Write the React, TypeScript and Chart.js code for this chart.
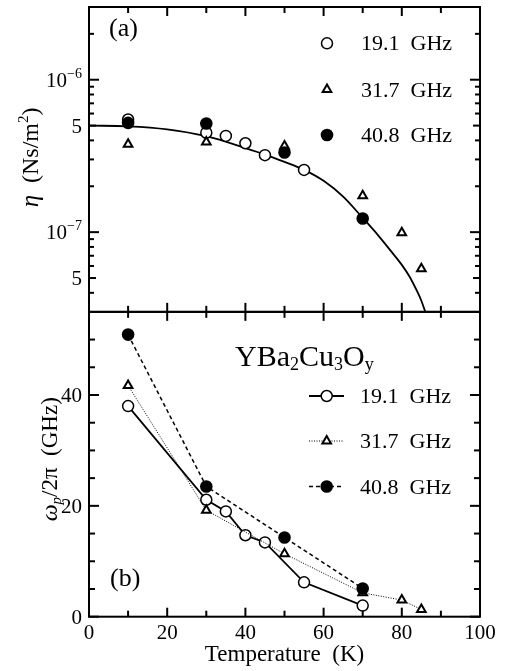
import React, { useEffect, useRef } from 'react';
import { Chart, registerables } from 'chart.js';

Chart.register(...registerables);

const FONT = '"Liberation Serif", "Times New Roman", Times, serif';

// ---------- Panel (a): viscosity eta (Ns/m^2), log scale ----------
const etaT191 = [10, 30, 35, 40, 45, 55];
const eta191 = [5.48e-7, 4.49e-7, 4.28e-7, 3.83e-7, 3.2e-7, 2.56e-7];
const etaT317 = [10, 30, 50, 70, 80, 85];
const eta317 = [3.77e-7, 3.9e-7, 3.67e-7, 1.73e-7, 9.9e-8, 5.75e-8];
const etaT408 = [10, 30, 50, 70];
const eta408 = [5.21e-7, 5.16e-7, 3.33e-7, 1.23e-7];
// fitted curve
const fitT = [0, 10, 20, 30, 40, 45, 50, 55, 60, 65, 70, 74, 78, 80, 82, 84, 85, 86];
const fitEta = [5.0e-7, 4.95e-7, 4.73e-7, 4.26e-7, 3.56e-7, 3.23e-7, 2.89e-7, 2.56e-7, 2.17e-7, 1.71e-7, 1.24e-7, 9.5e-8, 7.1e-8, 6.1e-8, 5.1e-8, 4.05e-8, 3.55e-8, 3.0e-8];

// ---------- Panel (b): omega_p / 2pi (GHz) ----------
const wT191 = [10, 30, 35, 40, 45, 55, 70];
const w191 = [38.0, 21.1, 19.0, 14.7, 13.4, 6.2, 2.0];
const wT317 = [10, 30, 50, 70, 80, 85];
const w317 = [41.7, 19.2, 11.35, 4.3, 3.0, 1.3];
const wT408 = [10, 30, 50, 70];
const w408 = [50.9, 23.5, 14.3, 5.1];

// ---------- axes ----------
const xRange = [0, 100];
const etaRange = [3e-8, 3e-6];
const wRange = [0, 55];
const xMajorTicks = [0, 20, 40, 60, 80, 100];
const xMinorTicks = [10, 30, 50, 70, 90];
const etaMajorTicks = [1e-7, 1e-6];
const etaMajorLabels = ['7', '6'];
const etaMidTicks = [5e-8, 5e-7];
const etaMidLabels = ['5', '5'];
const etaMinorTicks = [4e-8, 6e-8, 7e-8, 8e-8, 9e-8, 2e-7, 3e-7, 4e-7, 6e-7, 7e-7, 8e-7, 9e-7, 2e-6];
const wMajorTicks = [0, 20, 40];
const wMinorTicks = [5, 10, 15, 25, 30, 35, 45, 50];
const seriesLabels = ['19.1  GHz', '31.7  GHz', '40.8  GHz'];

const pts = (xs: number[], ys: number[]) => xs.map((x, i) => ({ x, y: ys[i] }));

type Run = { t: string; size: number; italic?: boolean; dy?: number };

function drawRuns(ctx: CanvasRenderingContext2D, runs: Run[], x: number, y: number, align: 'left' | 'center' | 'right') {
  const fontOf = (r: Run) => `${r.italic ? 'italic ' : ''}${r.size}px ${FONT}`;
  const widths = runs.map((r) => {
    ctx.font = fontOf(r);
    return ctx.measureText(r.t).width;
  });
  const total = widths.reduce((a, b) => a + b, 0);
  let cx = align === 'left' ? x : align === 'center' ? x - total / 2 : x - total;
  ctx.textAlign = 'left';
  ctx.textBaseline = 'alphabetic';
  runs.forEach((r, i) => {
    ctx.font = fontOf(r);
    ctx.fillText(r.t, cx, y + (r.dy || 0));
    cx += widths[i];
  });
}

function marker(ctx: CanvasRenderingContext2D, kind: string, x: number, y: number) {
  ctx.save();
  ctx.setLineDash([]);
  ctx.strokeStyle = '#000';
  ctx.beginPath();
  if (kind === 'open') {
    ctx.lineWidth = 1.5;
    ctx.fillStyle = '#fff';
    ctx.arc(x, y, 5.5, 0, Math.PI * 2);
    ctx.fill();
    ctx.stroke();
  } else if (kind === 'filled') {
    ctx.fillStyle = '#000';
    ctx.arc(x, y, 6.3, 0, Math.PI * 2);
    ctx.fill();
  } else {
    const r = 5;
    ctx.lineWidth = 2;
    ctx.fillStyle = '#fff';
    ctx.moveTo(x, y - r);
    ctx.lineTo(x + r * 0.866, y + r * 0.5);
    ctx.lineTo(x - r * 0.866, y + r * 0.5);
    ctx.closePath();
    ctx.fill();
    ctx.stroke();
  }
  ctx.restore();
}

const decorations = {
  id: 'decorations',
  afterDatasetsDraw(chart: any) {
    const ctx: CanvasRenderingContext2D = chart.ctx;
    const xs = chart.scales.x;
    const ya = chart.scales.ya;
    const yb = chart.scales.yb;
    const L = xs.left;
    const R = xs.right;
    ctx.save();
    ctx.strokeStyle = '#000';
    ctx.fillStyle = '#000';
    ctx.lineWidth = 2;
    ctx.setLineDash([]);

    // frames
    ctx.strokeRect(L, ya.top, R - L, ya.bottom - ya.top);
    ctx.strokeRect(L, yb.top, R - L, yb.bottom - yb.top);

    const line = (x1: number, y1: number, x2: number, y2: number) => {
      ctx.beginPath();
      ctx.moveTo(x1, y1);
      ctx.lineTo(x2, y2);
      ctx.stroke();
    };

    // x ticks (inward, top and bottom of both panels)
    [ya, yb].forEach((s: any) => {
      xMajorTicks.forEach((v) => {
        const px = xs.getPixelForValue(v);
        line(px, s.top, px, s.top + 9);
        line(px, s.bottom, px, s.bottom - 9);
      });
      xMinorTicks.forEach((v) => {
        const px = xs.getPixelForValue(v);
        line(px, s.top, px, s.top + 6);
        line(px, s.bottom, px, s.bottom - 6);
      });
    });

    const yTick = (py: number, len: number) => {
      line(L, py, L + len, py);
      line(R, py, R - len, py);
    };
    etaMajorTicks.forEach((v) => yTick(ya.getPixelForValue(v), 10));
    etaMidTicks.forEach((v) => yTick(ya.getPixelForValue(v), 7));
    etaMinorTicks.forEach((v) => yTick(ya.getPixelForValue(v), 5));
    wMajorTicks.forEach((v) => yTick(yb.getPixelForValue(v), 10));
    wMinorTicks.forEach((v) => yTick(yb.getPixelForValue(v), 6));

    // tick labels
    ctx.fillStyle = '#000';
    ctx.font = `21px ${FONT}`;
    ctx.textAlign = 'center';
    ctx.textBaseline = 'alphabetic';
    xMajorTicks.forEach((v) => {
      ctx.fillText(String(v), xs.getPixelForValue(v), yb.bottom + 22.5);
    });
    ctx.textAlign = 'right';
    wMajorTicks.forEach((v) => {
      ctx.fillText(String(v), L - 7, yb.getPixelForValue(v) + 7);
    });
    etaMidTicks.forEach((v, i) => {
      ctx.font = `21px ${FONT}`;
      ctx.textAlign = 'right';
      ctx.fillText(etaMidLabels[i], L - 7, ya.getPixelForValue(v) + 7);
    });
    etaMajorTicks.forEach((v, i) => {
      drawRuns(ctx, [
        { t: '10', size: 21 },
        { t: '\u2212' + etaMajorLabels[i], size: 14, dy: -9 },
      ], L - 7, ya.getPixelForValue(v) + 7, 'right');
    });

    // axis titles
    ctx.save();
    ctx.translate(38, (ya.top + ya.bottom) / 2 - 2);
    ctx.rotate(-Math.PI / 2);
    drawRuns(ctx, [
      { t: '\u03b7', size: 25, italic: true },
      { t: '  (Ns/m', size: 24 },
      { t: '2', size: 15, dy: -10 },
      { t: ')', size: 24 },
    ], 0, 0, 'center');
    ctx.restore();

    ctx.save();
    ctx.translate(56.5, (yb.top + yb.bottom) / 2 - 5);
    ctx.rotate(-Math.PI / 2);
    drawRuns(ctx, [
      { t: '\u03c9', size: 24, italic: true },
      { t: 'p', size: 15, italic: true, dy: 4 },
      { t: '/2\u03c0  (GHz)', size: 23 },
    ], 0, 0, 'center');
    ctx.restore();

    drawRuns(ctx, [{ t: 'Temperature  (K)', size: 23 }], (L + R) / 2, 661, 'center');

    // panel labels
    drawRuns(ctx, [{ t: '(a)', size: 26 }], 109, 35.5, 'left');
    drawRuns(ctx, [{ t: '(b)', size: 26 }], 110, 585.5, 'left');

    // compound label
    drawRuns(ctx, [
      { t: 'YBa', size: 30 },
      { t: '2', size: 18, dy: 4 },
      { t: 'Cu', size: 30 },
      { t: '3', size: 18, dy: 4 },
      { t: 'O', size: 30 },
      { t: 'y', size: 18, dy: 4 },
    ], 235, 366, 'left');

    // legend (a): markers only
    const kinds = ['open', 'tri', 'filled'];
    const legAy = [43.3, 89.5, 135];
    kinds.forEach((k, i) => {
      marker(ctx, k, 327, legAy[i]);
      ctx.fillStyle = '#000';
      drawRuns(ctx, [{ t: seriesLabels[i], size: 22 }], 361, legAy[i] + 7, 'left');
    });

    // legend (b): line + marker
    const legBy = [396, 441, 486.5];
    const dashes = [[], [1, 1.5], [4, 3]];
    const widths = [1.8, 1, 1.5];
    kinds.forEach((k, i) => {
      ctx.save();
      ctx.strokeStyle = '#000';
      ctx.lineWidth = widths[i];
      ctx.setLineDash(dashes[i]);
      line(309, legBy[i], 344, legBy[i]);
      ctx.restore();
      marker(ctx, k, 326.7, legBy[i]);
      ctx.fillStyle = '#000';
      drawRuns(ctx, [{ t: seriesLabels[i], size: 22 }], 360, legBy[i] + 7.3, 'left');
    });

    ctx.restore();
  },
};

export default function App() {
  const ref = useRef<HTMLCanvasElement>(null);

  useEffect(() => {
    const canvas = ref.current;
    if (!canvas) return;
    const openStyle = {
      pointStyle: 'circle',
      pointRadius: 5.5,
      pointBorderWidth: 1.5,
      pointBackgroundColor: '#fff',
      pointBorderColor: '#000',
    };
    const triStyle = {
      pointStyle: 'triangle',
      pointRadius: 5,
      pointBorderWidth: 2,
      pointBackgroundColor: '#fff',
      pointBorderColor: '#000',
    };
    const filledStyle = {
      pointStyle: 'circle',
      pointRadius: 6.3,
      pointBorderWidth: 0,
      pointBackgroundColor: '#000',
      pointBorderColor: '#000',
    };
    const chart = new Chart(canvas, {
      type: 'line',
      data: {
        datasets: [
          // panel (a)
          { label: 'fit', data: pts(fitT, fitEta), xAxisID: 'x', yAxisID: 'ya', showLine: true, borderColor: '#000', borderWidth: 1.8, pointRadius: 0, cubicInterpolationMode: 'monotone', order: 4 } as any,
          { label: seriesLabels[0], data: pts(etaT191, eta191), xAxisID: 'x', yAxisID: 'ya', showLine: false, ...openStyle, order: 3 },
          { label: seriesLabels[1], data: pts(etaT317, eta317), xAxisID: 'x', yAxisID: 'ya', showLine: false, ...triStyle, order: 2 },
          { label: seriesLabels[2], data: pts(etaT408, eta408), xAxisID: 'x', yAxisID: 'ya', showLine: false, ...filledStyle, order: 1 },
          // panel (b)
          { label: seriesLabels[0], data: pts(wT191, w191), xAxisID: 'x', yAxisID: 'yb', borderColor: '#000', borderWidth: 1.8, ...openStyle, order: 3 },
          { label: seriesLabels[1], data: pts(wT317, w317), xAxisID: 'x', yAxisID: 'yb', borderColor: '#000', borderWidth: 1, borderDash: [1, 1.5], ...triStyle, order: 2 },
          { label: seriesLabels[2], data: pts(wT408, w408), xAxisID: 'x', yAxisID: 'yb', borderColor: '#000', borderWidth: 1.5, borderDash: [4, 3], ...filledStyle, order: 1 },
        ],
      },
      options: {
        responsive: false,
        animation: false,
        devicePixelRatio: 1,
        layout: { padding: { left: 89, right: 25, top: 3.5, bottom: 54.3 } },
        plugins: { legend: { display: false }, tooltip: { enabled: false }, title: { display: false } },
        scales: {
          x: { type: 'linear', min: xRange[0], max: xRange[1], display: false },
          yb: { type: 'linear', min: wRange[0], max: wRange[1], position: 'left', stack: 'panels', stackWeight: 1, display: false },
          ya: { type: 'logarithmic', min: etaRange[0], max: etaRange[1], position: 'left', stack: 'panels', stackWeight: 1, display: false },
        },
      } as any,
      plugins: [decorations],
    });
    return () => chart.destroy();
  }, []);

  return (
    <div style={{ position: 'absolute', left: 0, top: 0, width: 505, height: 671, background: '#fff' }}>
      <canvas ref={ref} width={505} height={671} style={{ display: 'block' }} />
    </div>
  );
}
